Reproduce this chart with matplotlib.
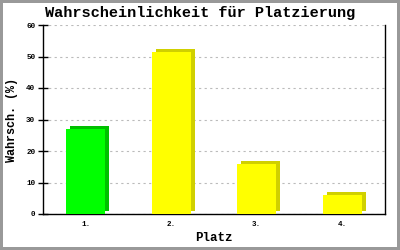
import matplotlib
matplotlib.use("Agg")
import matplotlib.pyplot as plt
import matplotlib.transforms as mtransforms

categories = ["1.", "2.", "3.", "4."]
values = [27, 51.5, 16, 6]
front_colors = ["#00ff00", "#ffff00", "#ffff00", "#ffff00"]
side_colors = ["#00c000", "#d0d000", "#d0d000", "#d0d000"]

fig = plt.figure(figsize=(4, 2.5), dpi=100, edgecolor="#999999", linewidth=3)
ax = fig.add_axes([43/400, 1 - 214/250, 342/400, 189/250])

x = list(range(len(categories)))
off = mtransforms.offset_copy(ax.transData, fig=fig, x=4, y=3, units="dots")
ax.bar(x, values, width=0.46, color=side_colors, transform=off, zorder=2, linewidth=0)
ax.bar(x, values, width=0.46, color=front_colors, zorder=3, linewidth=0)

ax.set_xlim(-0.5, len(categories) - 0.5)
ax.set_ylim(0, 60)
ax.set_yticks(range(0, 61, 10))
ax.set_xticks(x)
ax.set_xticklabels(categories)

mono = "Liberation Mono"
for lab in ax.get_yticklabels() + ax.get_xticklabels():
    lab.set_fontfamily(mono)
    lab.set_fontweight("bold")
    lab.set_fontsize(5.5)

ax.tick_params(axis="y", direction="inout", length=7, width=1, pad=2)
ax.tick_params(axis="x", length=0, pad=5)
ax.yaxis.grid(True, linestyle=(0, (2, 3)), color="#bbbbbb", linewidth=0.8, zorder=0)
ax.set_axisbelow(True)

ax.spines["top"].set_visible(False)
for s in ["left", "bottom", "right"]:
    ax.spines[s].set_color("black")
    ax.spines[s].set_linewidth(1)

ax.set_xlabel("Platz", fontfamily=mono, fontweight="bold", fontsize=9, labelpad=3)
ax.set_ylabel("Wahrsch. (%)", fontfamily=mono, fontweight="bold", fontsize=8.5, labelpad=6)
fig.text(0.5, 1 - 13/250, "Wahrscheinlichkeit für Platzierung", ha="center", va="center",
         fontfamily=mono, fontweight="bold", fontsize=11)

fig.savefig("out.png", dpi=100, edgecolor=fig.get_edgecolor())
